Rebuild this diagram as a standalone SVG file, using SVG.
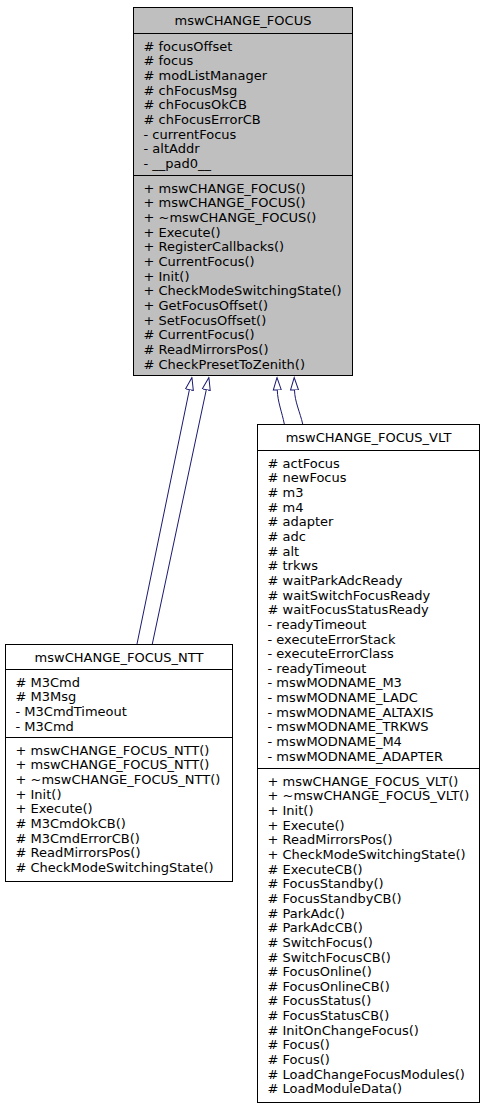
<svg xmlns="http://www.w3.org/2000/svg" width="485" height="1107" viewBox="0 0 485 1107">
<style>
  text { font-family: "DejaVu Sans", "Liberation Sans", sans-serif; font-size: 13px; fill: #000; }
  .title { text-anchor: middle; }
  .box { stroke: #000; stroke-width: 1; }
  .base { fill: #bfbfbf; }
  .plain { fill: #ffffff; }
  .sep { stroke: #000; stroke-width: 1; }
  .edge { fill: none; stroke: #191970; stroke-width: 1; marker-end: url(#inherit); }
</style>
<defs>
  <marker id="inherit" viewBox="0 0 14 10" refX="0.5" refY="5" markerWidth="14" markerHeight="10" markerUnits="userSpaceOnUse" orient="auto">
    <path d="M0.5,1 L13,5 L0.5,9 Z" fill="#ffffff" stroke="#191970" stroke-width="1"/>
  </marker>
</defs>
<rect width="485" height="1107" fill="#ffffff"/>

<g id="connectors">
  <path class="edge" d="M137,644 L189.4,389.7"/>
  <path class="edge" d="M152.3,644 L206.3,389.7"/>
  <path class="edge" d="M284.3,424 C282,412 277.6,402 277.3,390"/>
  <path class="edge" d="M302.7,424 C300,412 294.8,402 294.5,390"/>
</g>

<g id="mswCHANGE_FOCUS">
  <rect class="box base" x="133.5" y="7.5" width="219" height="368"/>
  <line class="sep" x1="133.5" y1="33.5" x2="352.5" y2="33.5"/>
  <line class="sep" x1="133.5" y1="175.5" x2="352.5" y2="175.5"/>
  <text class="title" x="243" y="25">mswCHANGE_FOCUS</text>
  <text x="143.5" y="50.7">
    <tspan x="143.5" dy="0"># focusOffset</tspan>
    <tspan x="143.5" dy="14.65"># focus</tspan>
    <tspan x="143.5" dy="14.65"># modListManager</tspan>
    <tspan x="143.5" dy="14.65"># chFocusMsg</tspan>
    <tspan x="143.5" dy="14.65"># chFocusOkCB</tspan>
    <tspan x="143.5" dy="14.65"># chFocusErrorCB</tspan>
    <tspan x="143.5" dy="14.65">- currentFocus</tspan>
    <tspan x="143.5" dy="14.65">- altAddr</tspan>
    <tspan x="143.5" dy="14.65">- __pad0__</tspan>
  </text>
  <text x="143.5" y="192.7">
    <tspan x="143.5" dy="0">+ mswCHANGE_FOCUS()</tspan>
    <tspan x="143.5" dy="14.65">+ mswCHANGE_FOCUS()</tspan>
    <tspan x="143.5" dy="14.65">+ ~mswCHANGE_FOCUS()</tspan>
    <tspan x="143.5" dy="14.65">+ Execute()</tspan>
    <tspan x="143.5" dy="14.65">+ RegisterCallbacks()</tspan>
    <tspan x="143.5" dy="14.65">+ CurrentFocus()</tspan>
    <tspan x="143.5" dy="14.65">+ Init()</tspan>
    <tspan x="143.5" dy="14.65">+ CheckModeSwitchingState()</tspan>
    <tspan x="143.5" dy="14.65">+ GetFocusOffset()</tspan>
    <tspan x="143.5" dy="14.65">+ SetFocusOffset()</tspan>
    <tspan x="143.5" dy="14.65"># CurrentFocus()</tspan>
    <tspan x="143.5" dy="14.65"># ReadMirrorsPos()</tspan>
    <tspan x="143.5" dy="14.65"># CheckPresetToZenith()</tspan>
  </text>
</g>

<g id="mswCHANGE_FOCUS_VLT">
  <rect class="box plain" x="257.5" y="424.5" width="222" height="678"/>
  <line class="sep" x1="257.5" y1="450.5" x2="479.5" y2="450.5"/>
  <line class="sep" x1="257.5" y1="768.5" x2="479.5" y2="768.5"/>
  <text class="title" x="368.5" y="442">mswCHANGE_FOCUS_VLT</text>
  <text x="267.5" y="467.7">
    <tspan x="267.5" dy="0"># actFocus</tspan>
    <tspan x="267.5" dy="14.65"># newFocus</tspan>
    <tspan x="267.5" dy="14.65"># m3</tspan>
    <tspan x="267.5" dy="14.65"># m4</tspan>
    <tspan x="267.5" dy="14.65"># adapter</tspan>
    <tspan x="267.5" dy="14.65"># adc</tspan>
    <tspan x="267.5" dy="14.65"># alt</tspan>
    <tspan x="267.5" dy="14.65"># trkws</tspan>
    <tspan x="267.5" dy="14.65"># waitParkAdcReady</tspan>
    <tspan x="267.5" dy="14.65"># waitSwitchFocusReady</tspan>
    <tspan x="267.5" dy="14.65"># waitFocusStatusReady</tspan>
    <tspan x="267.5" dy="14.65">- readyTimeout</tspan>
    <tspan x="267.5" dy="14.65">- executeErrorStack</tspan>
    <tspan x="267.5" dy="14.65">- executeErrorClass</tspan>
    <tspan x="267.5" dy="14.65">- readyTimeout</tspan>
    <tspan x="267.5" dy="14.65">- mswMODNAME_M3</tspan>
    <tspan x="267.5" dy="14.65">- mswMODNAME_LADC</tspan>
    <tspan x="267.5" dy="14.65">- mswMODNAME_ALTAXIS</tspan>
    <tspan x="267.5" dy="14.65">- mswMODNAME_TRKWS</tspan>
    <tspan x="267.5" dy="14.65">- mswMODNAME_M4</tspan>
    <tspan x="267.5" dy="14.65">- mswMODNAME_ADAPTER</tspan>
  </text>
  <text x="267.5" y="785.7">
    <tspan x="267.5" dy="0">+ mswCHANGE_FOCUS_VLT()</tspan>
    <tspan x="267.5" dy="14.65">+ ~mswCHANGE_FOCUS_VLT()</tspan>
    <tspan x="267.5" dy="14.65">+ Init()</tspan>
    <tspan x="267.5" dy="14.65">+ Execute()</tspan>
    <tspan x="267.5" dy="14.65">+ ReadMirrorsPos()</tspan>
    <tspan x="267.5" dy="14.65">+ CheckModeSwitchingState()</tspan>
    <tspan x="267.5" dy="14.65"># ExecuteCB()</tspan>
    <tspan x="267.5" dy="14.65"># FocusStandby()</tspan>
    <tspan x="267.5" dy="14.65"># FocusStandbyCB()</tspan>
    <tspan x="267.5" dy="14.65"># ParkAdc()</tspan>
    <tspan x="267.5" dy="14.65"># ParkAdcCB()</tspan>
    <tspan x="267.5" dy="14.65"># SwitchFocus()</tspan>
    <tspan x="267.5" dy="14.65"># SwitchFocusCB()</tspan>
    <tspan x="267.5" dy="14.65"># FocusOnline()</tspan>
    <tspan x="267.5" dy="14.65"># FocusOnlineCB()</tspan>
    <tspan x="267.5" dy="14.65"># FocusStatus()</tspan>
    <tspan x="267.5" dy="14.65"># FocusStatusCB()</tspan>
    <tspan x="267.5" dy="14.65"># InitOnChangeFocus()</tspan>
    <tspan x="267.5" dy="14.65"># Focus()</tspan>
    <tspan x="267.5" dy="14.65"># Focus()</tspan>
    <tspan x="267.5" dy="14.65"># LoadChangeFocusModules()</tspan>
    <tspan x="267.5" dy="14.65"># LoadModuleData()</tspan>
  </text>
</g>

<g id="mswCHANGE_FOCUS_NTT">
  <rect class="box plain" x="5.5" y="644.5" width="227" height="237"/>
  <line class="sep" x1="5.5" y1="669.5" x2="232.5" y2="669.5"/>
  <line class="sep" x1="5.5" y1="737.5" x2="232.5" y2="737.5"/>
  <text class="title" x="119" y="662">mswCHANGE_FOCUS_NTT</text>
  <text x="15.5" y="686.7">
    <tspan x="15.5" dy="0"># M3Cmd</tspan>
    <tspan x="15.5" dy="14.65"># M3Msg</tspan>
    <tspan x="15.5" dy="14.65">- M3CmdTimeout</tspan>
    <tspan x="15.5" dy="14.65">- M3Cmd</tspan>
  </text>
  <text x="15.5" y="754.7">
    <tspan x="15.5" dy="0">+ mswCHANGE_FOCUS_NTT()</tspan>
    <tspan x="15.5" dy="14.65">+ mswCHANGE_FOCUS_NTT()</tspan>
    <tspan x="15.5" dy="14.65">+ ~mswCHANGE_FOCUS_NTT()</tspan>
    <tspan x="15.5" dy="14.65">+ Init()</tspan>
    <tspan x="15.5" dy="14.65">+ Execute()</tspan>
    <tspan x="15.5" dy="14.65"># M3CmdOkCB()</tspan>
    <tspan x="15.5" dy="14.65"># M3CmdErrorCB()</tspan>
    <tspan x="15.5" dy="14.65"># ReadMirrorsPos()</tspan>
    <tspan x="15.5" dy="14.65"># CheckModeSwitchingState()</tspan>
  </text>
</g>
</svg>
